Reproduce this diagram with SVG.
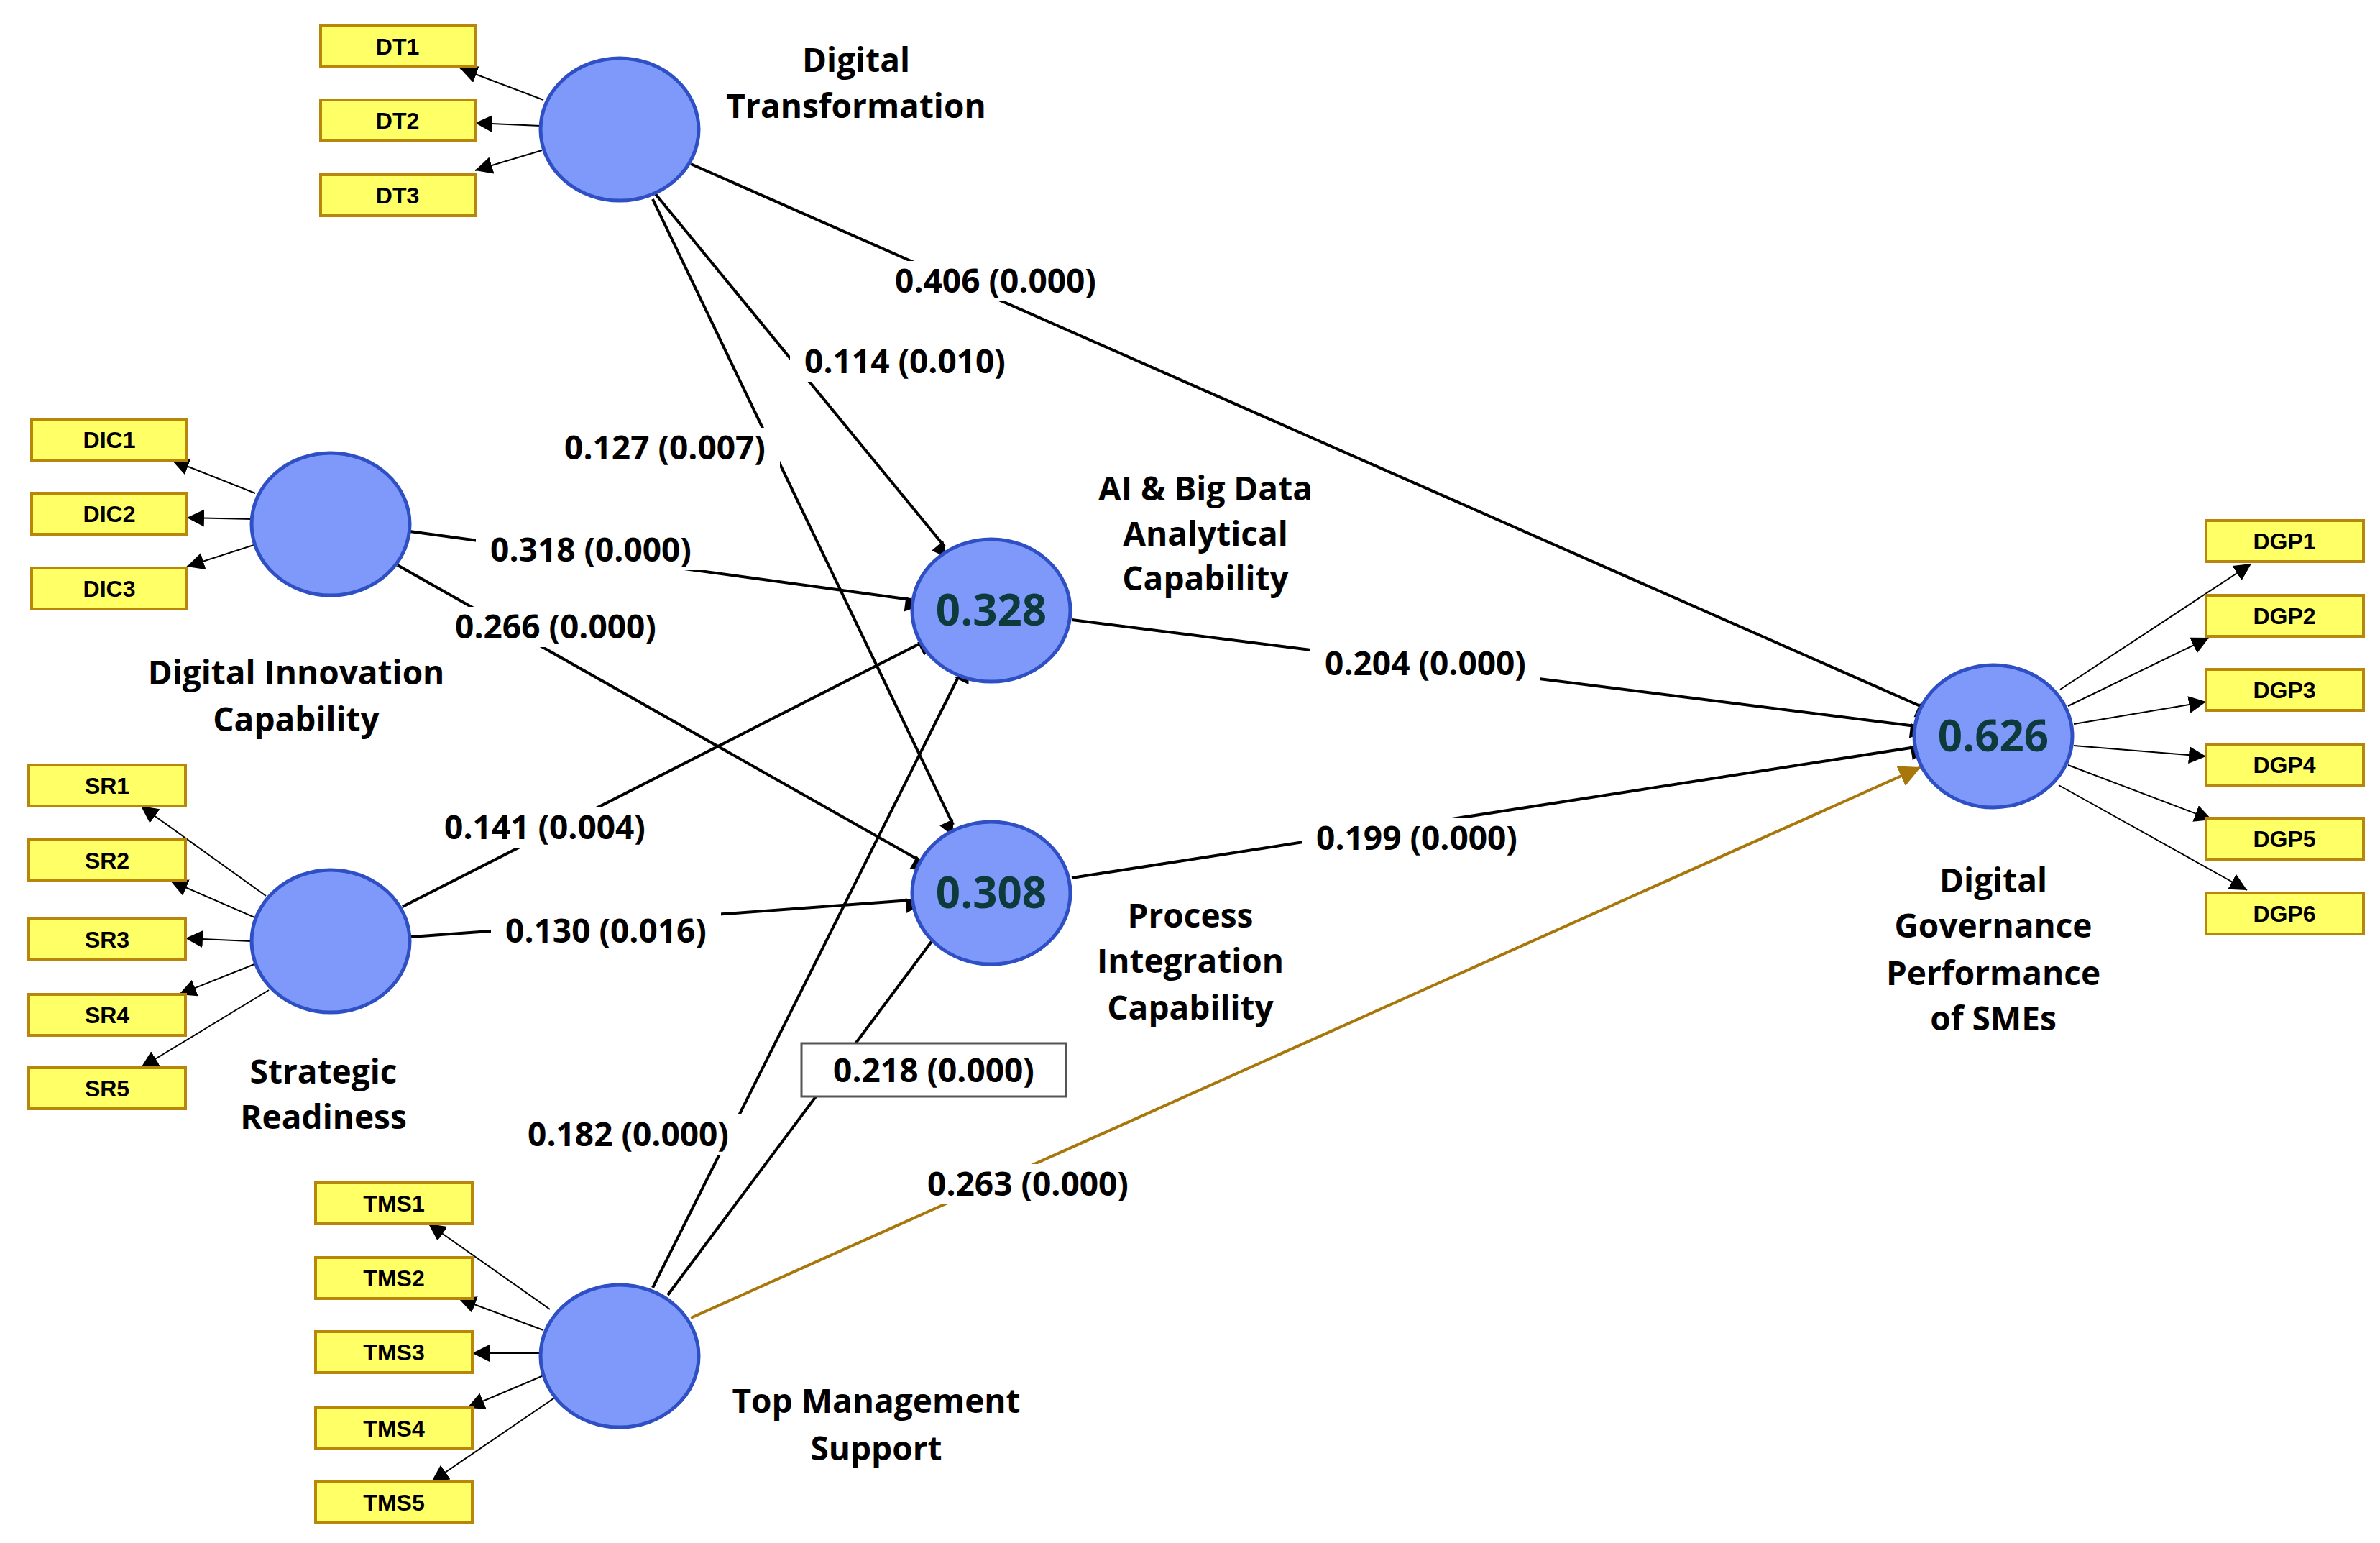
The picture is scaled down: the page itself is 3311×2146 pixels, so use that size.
<svg xmlns="http://www.w3.org/2000/svg" width="3311" height="2146" viewBox="0 0 3311 2146">
<style>
.c{fill:#7f99fb;stroke:#2f4fc4;stroke-width:5}
.b{fill:#ffff66;stroke:#b8860b;stroke-width:4}
.bt{font-family:"Liberation Sans",Arial,sans-serif;font-weight:bold;font-size:32px;text-anchor:middle;fill:#000}
.nt{font-family:"Open Sans","Liberation Sans",sans-serif;font-weight:bold;font-size:46px;text-anchor:middle;fill:#000}
.vt{font-family:"Open Sans","Liberation Sans",sans-serif;font-weight:bold;font-size:60px;text-anchor:middle;fill:#0d3b3b}
.lt{font-family:"Open Sans","Liberation Sans",sans-serif;font-weight:bold;font-size:46px;text-anchor:middle;fill:#000}
.p{stroke:#000;stroke-width:4;fill:none;marker-end:url(#a)}
.i{stroke:#000;stroke-width:2;fill:none;marker-end:url(#s)}
.br{stroke:#a8770c;stroke-width:4;fill:none;marker-end:url(#ab)}
.bg{fill:#fff}
</style>
<defs>
<marker id="a" viewBox="0 0 10 10" refX="10" refY="5" markerWidth="7" markerHeight="7" orient="auto" markerUnits="userSpaceOnUse" style="overflow:visible"><path d="M0,0L10,5L0,10z" transform="scale(3)" fill="#000"/></marker>
<marker id="s" viewBox="0 0 10 10" refX="10" refY="5" markerWidth="24" markerHeight="24" orient="auto" markerUnits="userSpaceOnUse"><path d="M0,0L10,5L0,10z" fill="#000"/></marker>
<marker id="ab" viewBox="0 0 10 10" refX="10" refY="5" markerWidth="30" markerHeight="30" orient="auto" markerUnits="userSpaceOnUse"><path d="M0,0L10,5L0,10z" fill="#a8770c"/></marker>
</defs>
<rect width="3311" height="2146" fill="#fff"/>
<g id="connectors">
<line class="i" x1="756" y1="139" x2="640" y2="95"/>
<line class="i" x1="752" y1="175" x2="661" y2="171"/>
<line class="i" x1="754" y1="209" x2="661" y2="237"/>
<line class="i" x1="355" y1="686" x2="239" y2="640"/>
<line class="i" x1="351" y1="722" x2="260" y2="720"/>
<line class="i" x1="353" y1="758" x2="260" y2="788"/>
<line class="i" x1="370" y1="1246" x2="196" y2="1121"/>
<line class="i" x1="359" y1="1278" x2="237" y2="1225"/>
<line class="i" x1="349" y1="1309" x2="258" y2="1305"/>
<line class="i" x1="359" y1="1339" x2="249" y2="1383"/>
<line class="i" x1="374" y1="1377" x2="196" y2="1485"/>
<line class="i" x1="765" y1="1821" x2="596" y2="1702"/>
<line class="i" x1="756" y1="1850" x2="638" y2="1806"/>
<line class="i" x1="752" y1="1882" x2="657" y2="1882"/>
<line class="i" x1="756" y1="1913" x2="650" y2="1958"/>
<line class="i" x1="773" y1="1943" x2="600" y2="2061"/>
<line class="i" x1="2866" y1="959" x2="3132" y2="784"/>
<line class="i" x1="2877" y1="982" x2="3073" y2="887"/>
<line class="i" x1="2885" y1="1007" x2="3069" y2="976"/>
<line class="i" x1="2885" y1="1037" x2="3069" y2="1052"/>
<line class="i" x1="2877" y1="1064" x2="3077" y2="1140"/>
<line class="i" x1="2864" y1="1092" x2="3126" y2="1238"/>
<line class="p" x1="912" y1="270" x2="1314" y2="760"/>
<line class="p" x1="908" y1="277" x2="1326" y2="1147"/>
<line class="p" x1="961" y1="228" x2="2676" y2="984"/>
<line class="p" x1="570" y1="739" x2="1267" y2="834"/>
<line class="p" x1="553" y1="786" x2="1280" y2="1197"/>
<line class="p" x1="560" y1="1261" x2="1284" y2="893"/>
<line class="p" x1="572" y1="1303" x2="1267" y2="1252"/>
<line class="p" x1="908" y1="1791" x2="1335" y2="938"/>
<line class="p" x1="929" y1="1801" x2="1312" y2="1288"/>
<line class="br" x1="961" y1="1833" x2="2672" y2="1067"/>
<line class="p" x1="1491" y1="862" x2="2665" y2="1010"/>
<line class="p" x1="1491" y1="1221" x2="2665" y2="1039"/>
</g>
<g id="labels">
<rect class="bg" x="1225" y="363" width="320" height="56"/><text class="lt" x="1385" y="407">0.406 (0.000)</text>
<rect class="bg" x="1099" y="475" width="320" height="56"/><text class="lt" x="1259" y="519">0.114 (0.010)</text>
<rect class="bg" x="765" y="595" width="320" height="56"/><text class="lt" x="925" y="639">0.127 (0.007)</text>
<rect class="bg" x="662" y="737" width="320" height="56"/><text class="lt" x="822" y="781">0.318 (0.000)</text>
<rect class="bg" x="613" y="844" width="320" height="56"/><text class="lt" x="773" y="888">0.266 (0.000)</text>
<rect class="bg" x="1823" y="895" width="320" height="56"/><text class="lt" x="1983" y="939">0.204 (0.000)</text>
<rect class="bg" x="598" y="1123" width="320" height="56"/><text class="lt" x="758" y="1167">0.141 (0.004)</text>
<rect class="bg" x="1811" y="1138" width="320" height="56"/><text class="lt" x="1971" y="1182">0.199 (0.000)</text>
<rect class="bg" x="683" y="1267" width="320" height="56"/><text class="lt" x="843" y="1311">0.130 (0.016)</text>
<rect x="1115" y="1451" width="368" height="74" fill="#fff" stroke="#555" stroke-width="3"/><text class="lt" x="1299" y="1505">0.218 (0.000)</text>
<rect class="bg" x="714" y="1550" width="320" height="56"/><text class="lt" x="874" y="1594">0.182 (0.000)</text>
<rect class="bg" x="1270" y="1619" width="320" height="56"/><text class="lt" x="1430" y="1663">0.263 (0.000)</text>
</g>
<g id="DT"><ellipse class="c" cx="862" cy="180" rx="110" ry="99"/><text class="nt" x="1191" y="100">Digital</text><text class="nt" x="1191" y="164">Transformation</text></g>
<g id="DIC"><ellipse class="c" cx="460" cy="729" rx="110" ry="99"/><text class="nt" x="412" y="952">Digital Innovation</text><text class="nt" x="412" y="1017">Capability</text></g>
<g id="SR"><ellipse class="c" cx="460" cy="1309" rx="110" ry="99"/><text class="nt" x="450" y="1507">Strategic</text><text class="nt" x="450" y="1570">Readiness</text></g>
<g id="TMS"><ellipse class="c" cx="862" cy="1886" rx="110" ry="99"/><text class="nt" x="1219" y="1965">Top Management</text><text class="nt" x="1219" y="2031">Support</text></g>
<g id="AI"><ellipse class="c" cx="1379" cy="849" rx="110" ry="99"/><text class="vt" x="1379" y="870">0.328</text><text class="nt" x="1677" y="696">AI &amp; Big Data</text><text class="nt" x="1677" y="759">Analytical</text><text class="nt" x="1677" y="821">Capability</text></g>
<g id="PI"><ellipse class="c" cx="1379" cy="1242" rx="110" ry="99"/><text class="vt" x="1379" y="1263">0.308</text><text class="nt" x="1656" y="1290">Process</text><text class="nt" x="1656" y="1353">Integration</text><text class="nt" x="1656" y="1418">Capability</text></g>
<g id="DGP"><ellipse class="c" cx="2773" cy="1024" rx="110" ry="99"/><text class="vt" x="2773" y="1045">0.626</text><text class="nt" x="2773" y="1241">Digital</text><text class="nt" x="2773" y="1304">Governance</text><text class="nt" x="2773" y="1370">Performance</text><text class="nt" x="2773" y="1433">of SMEs</text></g>
<g id="DT1"><rect class="b" x="446" y="36" width="215" height="57"/><text class="bt" x="553" y="76">DT1</text></g>
<g id="DT2"><rect class="b" x="446" y="139" width="215" height="57"/><text class="bt" x="553" y="179">DT2</text></g>
<g id="DT3"><rect class="b" x="446" y="243" width="215" height="57"/><text class="bt" x="553" y="283">DT3</text></g>
<g id="DIC1"><rect class="b" x="44" y="583" width="216" height="57"/><text class="bt" x="152" y="623">DIC1</text></g>
<g id="DIC2"><rect class="b" x="44" y="686" width="216" height="57"/><text class="bt" x="152" y="726">DIC2</text></g>
<g id="DIC3"><rect class="b" x="44" y="790" width="216" height="57"/><text class="bt" x="152" y="830">DIC3</text></g>
<g id="SR1"><rect class="b" x="40" y="1064" width="218" height="57"/><text class="bt" x="149" y="1104">SR1</text></g>
<g id="SR2"><rect class="b" x="40" y="1168" width="218" height="57"/><text class="bt" x="149" y="1208">SR2</text></g>
<g id="SR3"><rect class="b" x="40" y="1278" width="218" height="57"/><text class="bt" x="149" y="1318">SR3</text></g>
<g id="SR4"><rect class="b" x="40" y="1383" width="218" height="57"/><text class="bt" x="149" y="1423">SR4</text></g>
<g id="SR5"><rect class="b" x="40" y="1485" width="218" height="57"/><text class="bt" x="149" y="1525">SR5</text></g>
<g id="TMS1"><rect class="b" x="439" y="1645" width="218" height="57"/><text class="bt" x="548" y="1685">TMS1</text></g>
<g id="TMS2"><rect class="b" x="439" y="1749" width="218" height="57"/><text class="bt" x="548" y="1789">TMS2</text></g>
<g id="TMS3"><rect class="b" x="439" y="1852" width="218" height="57"/><text class="bt" x="548" y="1892">TMS3</text></g>
<g id="TMS4"><rect class="b" x="439" y="1958" width="218" height="57"/><text class="bt" x="548" y="1998">TMS4</text></g>
<g id="TMS5"><rect class="b" x="439" y="2061" width="218" height="57"/><text class="bt" x="548" y="2101">TMS5</text></g>
<g id="DGP1"><rect class="b" x="3069" y="724" width="219" height="57"/><text class="bt" x="3178" y="764">DGP1</text></g>
<g id="DGP2"><rect class="b" x="3069" y="828" width="219" height="57"/><text class="bt" x="3178" y="868">DGP2</text></g>
<g id="DGP3"><rect class="b" x="3069" y="931" width="219" height="57"/><text class="bt" x="3178" y="971">DGP3</text></g>
<g id="DGP4"><rect class="b" x="3069" y="1035" width="219" height="57"/><text class="bt" x="3178" y="1075">DGP4</text></g>
<g id="DGP5"><rect class="b" x="3069" y="1138" width="219" height="57"/><text class="bt" x="3178" y="1178">DGP5</text></g>
<g id="DGP6"><rect class="b" x="3069" y="1242" width="219" height="57"/><text class="bt" x="3178" y="1282">DGP6</text></g>
</svg>
